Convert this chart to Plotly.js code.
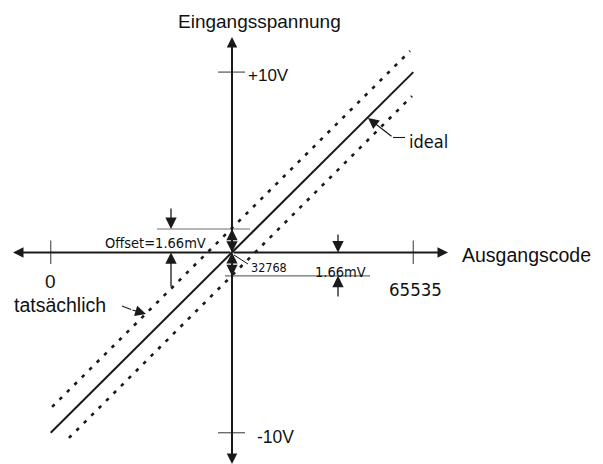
<!DOCTYPE html>
<html>
<head>
<meta charset="utf-8">
<script src="https://cdn.plot.ly/plotly-3.0.1.min.js"></script>
<style>
  html, body { margin: 0; padding: 0; background: #fff; }
  #chart { width: 603px; height: 464px; }
</style>
</head>
<body>
<div id="chart"></div>
<script>
// Transfer characteristic of a 16-bit converter: ideal line and the two
// offset-shifted actual lines, drawn on hand-made crossing axes.

const codeTicks = [0, 65535];
const codeTickLabels = ['0', '65535'];
const voltTicks = [10, -10];
const voltTickLabels = ['+10V', '-10V'];
const midCode = 32768;
const midCodeLabel = '32768';

const idealCode = [0, 65535];
const idealVolt = [-10, 10];

// actual characteristic, shifted up / down by the offset (offset exaggerated in the drawing)
const upperCode = [250, 64950];
const upperVolt = [-8.57, 11.17];
const lowerCode = [3300, 65300];
const lowerVolt = [-10.29, 8.67];
const offsetVolt = 1.3;

const offsetText = 'Offset=1.66mV';
const offsetValueText = '1.66mV';
const xTitle = 'Ausgangscode';
const yTitle = 'Eingangsspannung';
const idealText = 'ideal';
const actualText = 'tatsächlich';

// screen mapping of the drawing (pixels of the 603x464 canvas)
const W = 603, H = 464;
const ORIGIN_X = 232, ORIGIN_Y = 252.4;
const PX_PER_CODE = 362.6 / 65535;
const PX_PER_VOLT = 18.03;
const cx = p => midCode + (p - ORIGIN_X) / PX_PER_CODE;   // pixel -> code
const vy = p => (ORIGIN_Y - p) / PX_PER_VOLT;             // pixel -> volt
const dCode = d => d / PX_PER_CODE;                       // pixel distance -> code
const dVolt = d => d / PX_PER_VOLT;                       // pixel distance -> volt

const SANS = 'Liberation Sans, Arial, sans-serif';
const COND = 'DejaVu Sans Condensed, DejaVu Sans, sans-serif';
const INK = '#1a1a1a';
const GREY = '#6e6e6e';

const traces = [
  { x: idealCode, y: idealVolt, mode: 'lines', hoverinfo: 'skip',
    line: { color: INK, width: 2 } },
  { x: upperCode, y: upperVolt, mode: 'lines', hoverinfo: 'skip',
    line: { color: INK, width: 2.6, dash: '3.5px,7px' } },
  { x: lowerCode, y: lowerVolt, mode: 'lines', hoverinfo: 'skip',
    line: { color: INK, width: 2.6, dash: '3.5px,7px' } }
];

function seg(x0, y0, x1, y1, color, width) {
  return { type: 'line', xref: 'x', yref: 'y', x0, y0, x1, y1,
           line: { color, width } };
}

const shapes = [];
// tick marks on the code axis
codeTicks.forEach(c => shapes.push(seg(c, dVolt(12), c, -dVolt(11.5), GREY, 1.4)));
// tick marks on the voltage axis
voltTicks.forEach(v => shapes.push(seg(cx(218), v, cx(245), v, GREY, 1.4)));
// offset marker lines
shapes.push(seg(cx(157), offsetVolt, cx(250), offsetVolt, GREY, 1.1));
shapes.push(seg(cx(225), -offsetVolt, cx(370), -offsetVolt, GREY, 1.1));
// leader pieces
shapes.push(seg(cx(393), vy(137.5), cx(405), vy(137.5), INK, 1.1));
shapes.push(seg(cx(122), vy(306), cx(131), vy(309.5), INK, 1.1));
shapes.push(seg(cx(234), vy(255), cx(248), vy(264), INK, 1));

function arrow(hx, hy, tx, ty, width, size) {
  return { x: hx, y: hy, ax: tx, ay: ty, xref: 'x', yref: 'y', axref: 'x', ayref: 'y',
           text: '', showarrow: true, arrowhead: 2, arrowsize: size, arrowwidth: width,
           arrowcolor: INK, standoff: 0, startstandoff: 0 };
}

function label(x, y, text, font, size, xanchor) {
  return { x, y, xref: 'x', yref: 'y', text, showarrow: false,
           xanchor: xanchor || 'center', yanchor: 'middle',
           font: { family: font, size, color: '#111' } };
}

const annotations = [];
// crossing axes with arrow tips
annotations.push(arrow(cx(448), 0, midCode, 0, 2, 1.05));
annotations.push(arrow(cx(13), 0, midCode, 0, 2, 1.05));
annotations.push(arrow(midCode, vy(37), midCode, 0, 2, 1.05));
annotations.push(arrow(midCode, vy(464), midCode, 0, 2, 1.05));

// offset brackets: left pair
annotations.push(arrow(cx(171), offsetVolt, cx(171), vy(207), 1.3, 1.75));
annotations.push(arrow(cx(171), 0, cx(171), vy(288), 1.3, 1.75));
// right pair
annotations.push(arrow(cx(338), 0, cx(338), vy(233), 1.3, 1.75));
annotations.push(arrow(cx(338), -offsetVolt, cx(338), vy(298), 1.3, 1.75));
// small arrow heads on the voltage axis
annotations.push(arrow(midCode, offsetVolt, midCode, offsetVolt / 2, 1.4, 1.6));
annotations.push(arrow(midCode, 0, midCode, offsetVolt / 2, 1.4, 1.6));
annotations.push(arrow(midCode, 0, midCode, -offsetVolt / 2, 1.4, 1.6));
annotations.push(arrow(midCode, -offsetVolt, midCode, -offsetVolt / 2, 1.4, 1.6));

// leaders to the lines
annotations.push(arrow(cx(368), vy(118), cx(393), vy(137.5), 1.2, 1.8));
annotations.push(arrow(cx(146), vy(314), cx(131), vy(309.5), 1.2, 1.8));

// axis titles
annotations.push(label(cx(176), vy(21), yTitle, SANS, 19, 'left'));
annotations.push(label(cx(460), vy(255), xTitle, SANS, 19.5, 'left'));

// tick labels
annotations.push(label(codeTicks[0], vy(281), codeTickLabels[0], SANS, 19));
annotations.push(label(codeTicks[1] + dCode(2.5), vy(289), codeTickLabels[1], COND, 18.5));
annotations.push(label(cx(246), voltTicks[0] - dVolt(3), voltTickLabels[0], SANS, 17, 'left'));
annotations.push(label(cx(255), voltTicks[1] - dVolt(4.5), voltTickLabels[1], SANS, 17.5, 'left'));

// inline texts
annotations.push(label(cx(155), vy(243), offsetText, COND, 14.5));
annotations.push(label(cx(340.5), vy(271.5), offsetValueText, COND, 14.5));
annotations.push(label(cx(249), vy(267), midCodeLabel, COND, 12.5, 'left'));
annotations.push(label(cx(407), vy(141), idealText, COND, 18, 'left'));
annotations.push(label(cx(12), vy(305), actualText, SANS, 19.5, 'left'));

const layout = {
  width: W, height: H, autosize: false,
  margin: { l: 0, r: 0, t: 0, b: 0, pad: 0 },
  paper_bgcolor: '#fff', plot_bgcolor: '#fff',
  showlegend: false,
  xaxis: { range: [cx(0), cx(W)], visible: false, fixedrange: true },
  yaxis: { range: [vy(H), vy(0)], visible: false, fixedrange: true },
  shapes, annotations
};

Plotly.newPlot('chart', traces, layout, { staticPlot: true, displayModeBar: false });
</script>
</body>
</html>
